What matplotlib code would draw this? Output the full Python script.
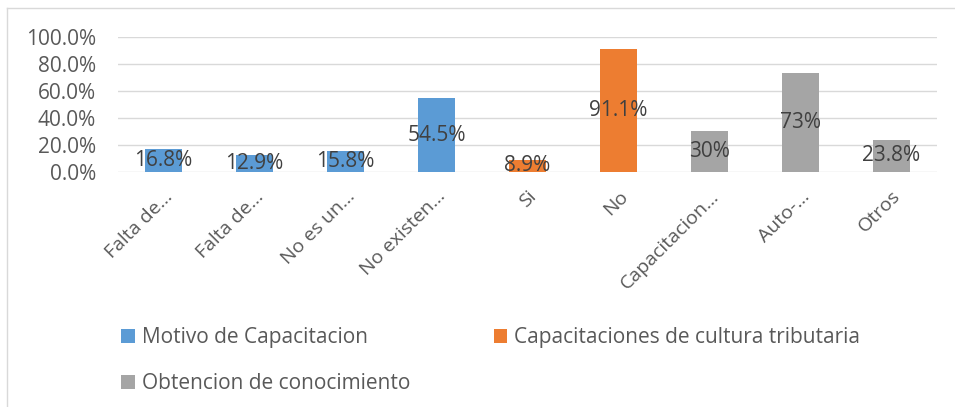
import matplotlib
matplotlib.use("Agg")
import matplotlib.pyplot as plt
from matplotlib.lines import Line2D
from matplotlib.patches import Patch
from matplotlib.ticker import FuncFormatter

categories = ["Falta de…", "Falta de…", "No es un…", "No existen…", "Si", "No",
              "Capacitacion…", "Auto-…", "Otros"]
values = [16.8, 12.9, 15.8, 54.5, 8.9, 91.1, 30, 73, 23.8]
labels = ["16.8%", "12.9%", "15.8%", "54.5%", "8.9%", "91.1%", "30%", "73%", "23.8%"]
series_names = ["Motivo de Capacitacion", "Capacitaciones de cultura tributaria",
                "Obtencion de conocimiento"]
series_of_cat = [0, 0, 0, 0, 1, 1, 2, 2, 2]
colors = ["#5B9BD5", "#ED7D31", "#A5A5A5"]

plt.rcParams['font.family'] = ['Open Sans', 'DejaVu Sans']

W, H = 955, 407
fig = plt.figure(figsize=(W / 100, H / 100), dpi=100)
# chart border (left and top only visible)
fig.add_artist(Line2D([7 / W, 7 / W], [0, 1 - 8 / H], transform=fig.transFigure,
                      color="#D9D9D9", linewidth=1))
fig.add_artist(Line2D([7 / W, 1], [1 - 8 / H, 1 - 8 / H], transform=fig.transFigure,
                      color="#D9D9D9", linewidth=1))

ax = fig.add_axes([118 / W, 1 - 172 / H, (937 - 118) / W, (172 - 37) / H])

x = list(range(len(categories)))
bar_colors = [colors[s] for s in series_of_cat]
ax.bar(x, values, width=0.41, color=bar_colors, zorder=3)
for xi, v, lab in zip(x, values, labels):
    ax.text(xi, v / 2, lab, ha="center", va="center", fontsize=15,
            color="#404040", zorder=4)

ax.set_xlim(-0.5, len(categories) - 0.5)
ax.set_ylim(0, 100)
ax.set_yticks([0, 20, 40, 60, 80, 100])
ax.yaxis.set_major_formatter(FuncFormatter(lambda v, p: f"{v:.1f}%"))
ax.grid(axis="y", color="#D9D9D9", linewidth=1, zorder=0)
for s in ax.spines.values():
    s.set_visible(False)
ax.tick_params(axis="both", length=0, labelsize=15, colors="#595959")
ax.tick_params(axis="y", pad=16)
ax.set_xticks(x)
ax.set_xticklabels(categories, rotation=45, ha="right", rotation_mode="anchor",
                   fontsize=14)
ax.tick_params(axis="x", pad=11)

order = [0, 2, 1]
handles = [Patch(facecolor=colors[i]) for i in order]
names = [series_names[i] for i in order]
fig.legend(handles, names, loc="upper left", bbox_to_anchor=(121 / W, 1 - 327 / H),
           ncol=2, frameon=False, fontsize=15, handlelength=0.67, handleheight=0.67,
           handletextpad=0.33, columnspacing=4.0, labelspacing=1.2,
           labelcolor="#595959", borderpad=0, borderaxespad=0)

fig.savefig("out.png", dpi=100)
